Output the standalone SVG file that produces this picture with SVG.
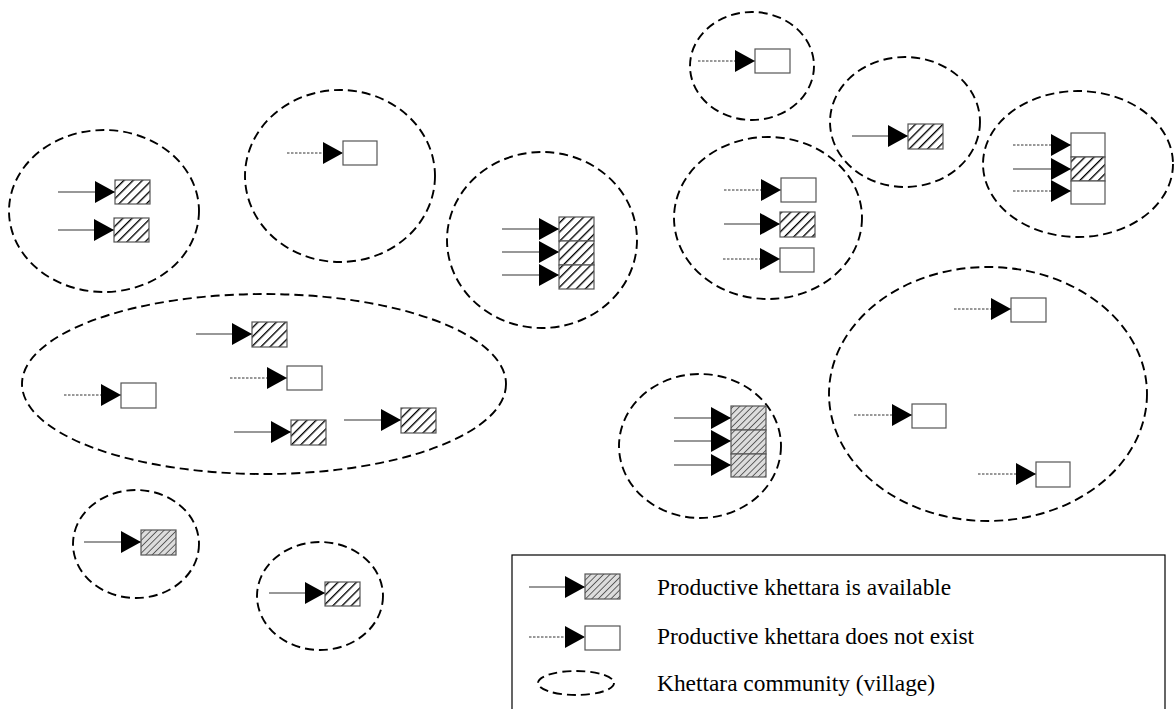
<svg xmlns="http://www.w3.org/2000/svg" width="1175" height="709" viewBox="0 0 1175 709">
<style>
.v{fill:none;stroke:#000;stroke-width:1.9;stroke-dasharray:9 5}
.b{stroke:#555;stroke-width:1.2}
.w{fill:#fff}
.d{fill:url(#dark)}
.g{fill:url(#gray)}
.s{stroke:#333;stroke-width:1.1;fill:none;marker-end:url(#ah)}
.t{stroke:#333;stroke-width:1;stroke-dasharray:2.5 1.5;fill:none;marker-end:url(#ah)}
.lt{font-family:"Liberation Serif","Times New Roman",serif;font-size:23.4px;fill:#000}
</style>
<defs>
<pattern id="dark" patternUnits="userSpaceOnUse" width="6.5" height="6.5" patternTransform="rotate(45)">
<rect width="6.5" height="6.5" fill="#fff"/>
<line x1="0" y1="0" x2="0" y2="6.5" stroke="#000" stroke-width="2.7"/>
</pattern>
<pattern id="gray" patternUnits="userSpaceOnUse" width="4.5" height="4.5" patternTransform="rotate(45)">
<rect width="4.5" height="4.5" fill="#ddd"/>
<line x1="0" y1="0" x2="0" y2="4.5" stroke="#555" stroke-width="1.8"/>
</pattern>
<marker id="ah" markerUnits="userSpaceOnUse" markerWidth="21" markerHeight="23" refX="20" refY="11" orient="auto" viewBox="0 0 21 23">
<path d="M0,0 L20,11 L0,22 Z" fill="#000"/>
</marker>
</defs>

<g id="villages">
<ellipse id="v1" class="v" cx="104" cy="211" rx="95" ry="81"/>
<ellipse id="v2" class="v" cx="340" cy="176" rx="95" ry="86"/>
<ellipse id="v3" class="v" cx="542" cy="240" rx="95" ry="88"/>
<ellipse id="v4" class="v" cx="264" cy="384" rx="242" ry="90"/>
<ellipse id="v5" class="v" cx="136" cy="544" rx="63" ry="54"/>
<ellipse id="v6" class="v" cx="320" cy="596" rx="63" ry="54"/>
<ellipse id="v7" class="v" cx="752" cy="66" rx="62" ry="54"/>
<ellipse id="v8" class="v" cx="905" cy="122" rx="75" ry="65"/>
<ellipse id="v9" class="v" cx="1078" cy="164" rx="95" ry="73"/>
<ellipse id="v10" class="v" cx="768" cy="218" rx="94" ry="81"/>
<ellipse id="v11" class="v" cx="700" cy="446" rx="81" ry="72"/>
<ellipse id="v12" class="v" cx="988" cy="394" rx="159" ry="127"/>
</g>

<g id="connectors">
<line class="s" x1="58" y1="192" x2="115" y2="192"/>
<line class="s" x1="58" y1="230" x2="114" y2="230"/>
<line class="t" x1="287" y1="153" x2="343" y2="153"/>
<line class="s" x1="502" y1="229" x2="559" y2="229"/>
<line class="s" x1="502" y1="252" x2="559" y2="252"/>
<line class="s" x1="502" y1="275" x2="559" y2="275"/>
<line class="s" x1="196" y1="334" x2="252" y2="334"/>
<line class="t" x1="230" y1="378" x2="287" y2="378"/>
<line class="t" x1="64" y1="395" x2="121" y2="395"/>
<line class="s" x1="234" y1="432" x2="291" y2="432"/>
<line class="s" x1="344" y1="420" x2="401" y2="420"/>
<line class="s" x1="84" y1="542" x2="141" y2="542"/>
<line class="s" x1="269" y1="593" x2="325" y2="593"/>
<line class="t" x1="698" y1="61" x2="755" y2="61"/>
<line class="s" x1="852" y1="136" x2="908" y2="136"/>
<line class="t" x1="1013" y1="145" x2="1071" y2="145"/>
<line class="s" x1="1013" y1="169" x2="1071" y2="169"/>
<line class="t" x1="1013" y1="191" x2="1071" y2="191"/>
<line class="t" x1="724" y1="190" x2="781" y2="190"/>
<line class="s" x1="724" y1="224" x2="780" y2="224"/>
<line class="t" x1="723" y1="259" x2="780" y2="259"/>
<line class="s" x1="674" y1="418" x2="731" y2="418"/>
<line class="s" x1="674" y1="441" x2="731" y2="441"/>
<line class="s" x1="674" y1="465" x2="731" y2="465"/>
<line class="t" x1="954" y1="309" x2="1011" y2="309"/>
<line class="t" x1="854" y1="415" x2="912" y2="415"/>
<line class="t" x1="978" y1="474" x2="1036" y2="474"/>
</g>

<g id="k1"><rect class="b d" x="115" y="180" width="35" height="24"/></g>
<g id="k2"><rect class="b d" x="114" y="218" width="35" height="24"/></g>
<g id="k3"><rect class="b w" x="343" y="141" width="34" height="24"/></g>
<g id="k4"><rect class="b d" x="559" y="217" width="35" height="24"/></g>
<g id="k5"><rect class="b d" x="559" y="241" width="35" height="24"/></g>
<g id="k6"><rect class="b d" x="559" y="265" width="35" height="24"/></g>
<g id="k7"><rect class="b d" x="252" y="322" width="35" height="25"/></g>
<g id="k8"><rect class="b w" x="287" y="366" width="35" height="24"/></g>
<g id="k9"><rect class="b w" x="121" y="383" width="35" height="25"/></g>
<g id="k10"><rect class="b d" x="291" y="420" width="35" height="25"/></g>
<g id="k11"><rect class="b d" x="401" y="408" width="35" height="25"/></g>
<g id="k12"><rect class="b g" x="141" y="530" width="35" height="25"/></g>
<g id="k13"><rect class="b d" x="325" y="582" width="35" height="24"/></g>
<g id="k14"><rect class="b w" x="755" y="49" width="35" height="24"/></g>
<g id="k15"><rect class="b d" x="908" y="124" width="35" height="25"/></g>
<g id="k16"><rect class="b w" x="1071" y="133" width="34" height="24"/></g>
<g id="k17"><rect class="b d" x="1071" y="157" width="34" height="24"/></g>
<g id="k18"><rect class="b w" x="1071" y="181" width="34" height="23"/></g>
<g id="k19"><rect class="b w" x="781" y="178" width="35" height="24"/></g>
<g id="k20"><rect class="b d" x="780" y="212" width="35" height="25"/></g>
<g id="k21"><rect class="b w" x="780" y="248" width="34" height="24"/></g>
<g id="k22"><rect class="b g" x="731" y="406" width="35" height="24"/></g>
<g id="k23"><rect class="b g" x="731" y="430" width="35" height="24"/></g>
<g id="k24"><rect class="b g" x="731" y="454" width="35" height="23"/></g>
<g id="k25"><rect class="b w" x="1011" y="298" width="35" height="24"/></g>
<g id="k26"><rect class="b w" x="912" y="404" width="34" height="24"/></g>
<g id="k27"><rect class="b w" x="1036" y="462" width="34" height="25"/></g>

<g id="legend">
<rect x="512" y="555" width="653" height="170" fill="none" stroke="#000" stroke-width="1.2"/>
<line class="s" x1="529" y1="587" x2="585" y2="587"/>
<rect class="b g" x="585" y="574" width="35" height="25"/>
<text class="lt" x="657" y="595">Productive khettara is available</text>
<line class="t" x1="529" y1="637" x2="585" y2="637"/>
<rect class="b w" x="585" y="626" width="35" height="24"/>
<text class="lt" x="657" y="644">Productive khettara does not exist</text>
<ellipse class="v" cx="576" cy="683" rx="38" ry="12"/>
<text class="lt" x="657" y="691">Khettara community (village)</text>
</g>
</svg>
